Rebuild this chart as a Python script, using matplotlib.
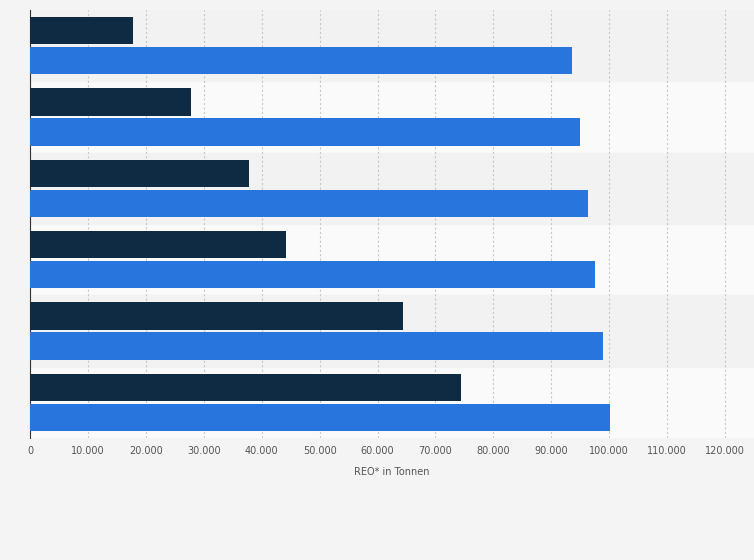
import matplotlib
matplotlib.use("Agg")
import matplotlib.pyplot as plt
import numpy as np

# values (no category labels shown)
dark_vals = [17800, 27800, 37800, 44200, 64400, 74400]
blue_vals = [93600, 95000, 96300, 97500, 98900, 100100]
ticks = list(range(0, 120001, 10000))
tick_labels = ["0"] + [f"{t // 1000}.000" for t in ticks[1:]]

fig = plt.figure(figsize=(7.54, 5.60), dpi=100)
fig.patch.set_facecolor("#f4f4f4")
ax = fig.add_axes([30 / 754, 1 - 438 / 560, 1 - 30 / 754, 428 / 560])
ax.set_facecolor("#fafafa")

n = len(dark_vals)
y = np.arange(n)
for i in range(n):
    if i % 2 == 0:
        ax.axhspan(i - 0.5, i + 0.5, color="#f2f2f2", zorder=0)

h = 0.38
ax.barh(y - 0.21, dark_vals, height=h, color="#0f2a43", zorder=3)
ax.barh(y + 0.21, blue_vals, height=h, color="#2876dd", zorder=3)

ax.set_ylim(n - 0.5, -0.5)
ax.set_xlim(0, 125000)
ax.set_xticks(ticks)
ax.set_xticklabels(tick_labels, fontsize=7, color="#555555")
ax.set_yticks([])
ax.grid(axis="x", linestyle=(0, (2, 2)), color="#c8c8c8", linewidth=0.8, zorder=1)
ax.tick_params(axis="x", length=0, pad=6)
for s in ["top", "right", "bottom"]:
    ax.spines[s].set_visible(False)
ax.spines["left"].set_color("#333333")
ax.set_xlabel("REO* in Tonnen", fontsize=7, color="#555555", labelpad=8)

fig.savefig("out.png", dpi=100, facecolor=fig.get_facecolor())
